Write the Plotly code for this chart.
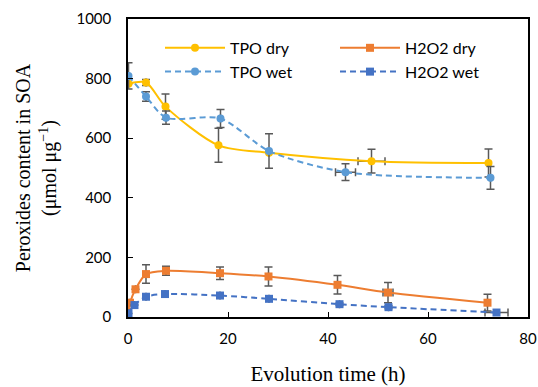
import plotly.graph_objects as go

# TPO dry
tpo_dry_t = [0.1, 3.6, 7.5, 18.1, 28.2, 48.7, 72.1]
tpo_dry_v = [783, 787, 706, 576, 551, 523, 517]
tpo_dry_err = [0, 10, 42, 57, 0, 40, 47]
tpo_dry_xerr = [0, 0, 0, 0, 0, 2.7, 0]

# TPO wet
tpo_wet_t = [0.1, 3.6, 7.6, 18.5, 28.2, 43.5, 72.5]
tpo_wet_v = [809, 740, 669, 666, 557, 486, 467]
tpo_wet_err = [44, 16, 22, 30, 58, 28, 38]
tpo_wet_xerr = [0, 0, 0, 0, 0, 2.0, 0]

# H2O2 dry
h2o2_dry_t = [0, 0.4, 1.5, 3.6, 7.6, 18.4, 28.1, 41.9, 52.0, 71.9]
h2o2_dry_v = [18, 48, 93, 144, 155, 147, 136, 108, 82, 48]
h2o2_dry_err = [0, 0, 0, 31, 15, 21, 32, 31, 34, 28]
h2o2_dry_xerr = [0, 0, 0, 0, 0, 0, 0, 0, 1.0, 0]

# H2O2 wet
h2o2_wet_t = [0.1, 1.3, 3.6, 7.4, 18.4, 28.2, 42.3, 52.1, 73.7]
h2o2_wet_v = [12, 40, 68, 77, 72, 61, 43, 33, 15]
h2o2_wet_err = [0, 0, 4, 4, 4, 4, 4, 5, 0]
h2o2_wet_xerr = [0, 0, 0, 0, 0, 0, 0, 0, 2.3]

x_ticks = [0, 20, 40, 60, 80]
y_ticks = [0, 200, 400, 600, 800, 1000]

ERR = "#595959"

def trace(name, t, v, err, xerr, color, symbol, dash):
    return go.Scatter(
        x=t, y=v, name=name, mode="lines+markers",
        line=dict(color=color, width=2, dash=dash, shape="spline", smoothing=0.8),
        marker=dict(color=color, size=8, symbol=symbol),
        error_y=dict(type="data", array=err, visible=True, color=ERR, thickness=1.5, width=4),
        error_x=dict(type="data", array=xerr, visible=True, color=ERR, thickness=1.5, width=4),
    )

fig = go.Figure()
fig.add_trace(trace("TPO dry", tpo_dry_t, tpo_dry_v, tpo_dry_err, tpo_dry_xerr, "#FFC000", "circle", "solid"))
fig.add_trace(trace("H2O2 dry", h2o2_dry_t, h2o2_dry_v, h2o2_dry_err, h2o2_dry_xerr, "#ED7D31", "square", "solid"))
fig.add_trace(trace("TPO wet", tpo_wet_t, tpo_wet_v, tpo_wet_err, tpo_wet_xerr, "#5B9BD5", "circle", "6px,4px"))
fig.add_trace(trace("H2O2 wet", h2o2_wet_t, h2o2_wet_v, h2o2_wet_err, h2o2_wet_xerr, "#4472C4", "square", "6px,4px"))

fig.update_layout(
    width=538, height=387,
    margin=dict(l=128, r=10, t=19, b=70, autoexpand=False),
    paper_bgcolor="white", plot_bgcolor="white",
    font=dict(family="Lato, Liberation Sans, sans-serif", size=15, color="black"),
    showlegend=True,
    legend=dict(
        orientation="h", x=0.08, y=0.96, xanchor="left", yanchor="top",
        entrywidth=100, entrywidthmode="pixels", itemwidth=60,
        bgcolor="rgba(0,0,0,0)", font=dict(size=16), tracegroupgap=0,
    ),
    xaxis=dict(
        range=[0, 80], tickvals=x_ticks, ticks="inside", ticklen=5, tickcolor="black",
        showline=True, linecolor="black", linewidth=1.5, mirror=True, showgrid=False, zeroline=False,
        title=dict(text="Evolution time (h)", font=dict(family="Liberation Serif, serif", size=21), standoff=21),
        automargin=False, tickfont=dict(size=15), ticklabelstandoff=7,
    ),
    yaxis=dict(
        range=[0, 1000], tickvals=y_ticks, ticks="inside", ticklen=5, tickcolor="black",
        showline=True, linecolor="black", linewidth=1.5, mirror=True, showgrid=False, zeroline=False,
        title=dict(text="Peroxides content in SOA<br>(μmol μg<sup>−1</sup>)", font=dict(family="Liberation Serif, serif", size=20), standoff=14),
        automargin=False, tickfont=dict(size=15), ticklabelstandoff=12,
    ),
)

fig.write_html(
    "out.html",
    config={"displayModeBar": False},
    post_script="document.body.style.margin='0';document.body.style.overflow='hidden';",
)
